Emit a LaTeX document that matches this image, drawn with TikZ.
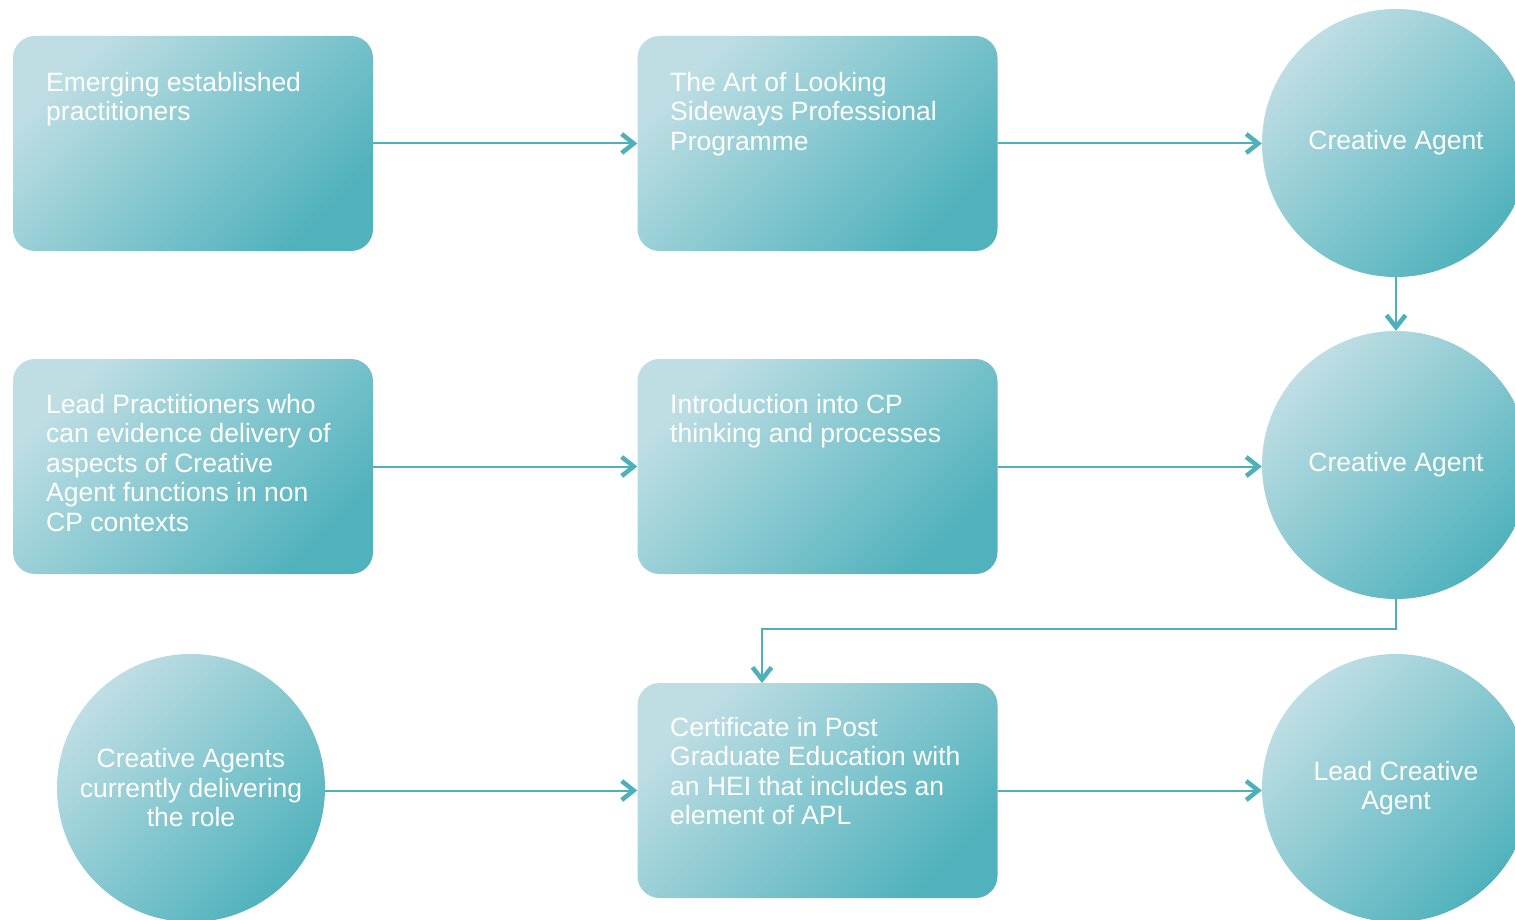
\documentclass[tikz,border=0pt]{standalone}
\usepackage{fontspec}
\setmainfont{Liberation Sans}
\usetikzlibrary{arrows.meta}
\definecolor{tealLight}{HTML}{BFDEE4}
\definecolor{tealDark}{HTML}{50B2BC}
\definecolor{tealLine}{HTML}{4DB1BB}
\tikzset{
  x=1pt, y=-1pt,
  shadefill/.style={draw=none, top color=tealLight, bottom color=tealDark, shading angle=45},
  stagebox/.style={shadefill, rounded corners=22pt, minimum width=360pt, minimum height=215pt, inner sep=0pt},
  stagecircle/.style={shadefill, circle, minimum size=268pt, inner sep=0pt, text=white,
    font=\fontsize{26.5}{29.5}\selectfont, align=center},
  boxtext/.style={anchor=north west, inner sep=0pt, text=white, align=left,
    font=\fontsize{26.5}{29.5}\selectfont},
  conn/.style={draw=tealLine, line width=2pt,
    -{Straight Barb[length=12pt, width=19pt, line width=4.5pt]}}
}
\begin{document}
\begin{tikzpicture}
\clip (0,0) rectangle (1515,920);
\fill[white] (0,0) rectangle (1515,920);

% row 1
\node[stagebox] (b1) at (193,143.5) {};
\node[stagebox] (b2) at (817.5,143.5) {};
\node[stagecircle] (c1) at (1396,143) {Creative Agent};
\node[boxtext] (t1) at (46,72) {Emerging established\\practitioners};
\node[boxtext] (t2) at (670,72) {The Art of Looking\\Sideways Professional\\Programme};

% row 2
\node[stagebox] (b3) at (193,466.5) {};
\node[stagebox] (b4) at (817.5,466.5) {};
\node[stagecircle] (c2) at (1396,465) {Creative Agent};
\node[boxtext] (t3) at (46,394) {Lead Practitioners who\\can evidence delivery of\\aspects of Creative\\Agent functions in non\\CP contexts};
\node[boxtext] (t4) at (670,394) {Introduction into CP\\thinking and processes};

% row 3
\node[stagecircle] (c3) at (191,788) {Creative Agents\\currently delivering\\the role};
\node[stagebox] (b6) at (817.5,790.5) {};
\node[stagecircle] (c4) at (1396,788) {Lead Creative\\Agent};
\node[boxtext] (t6) at (670,717) {Certificate in Post\\Graduate Education with\\an HEI that includes an\\element of APL};

% connectors
\draw[conn] (b1.east) -- (b2.west);
\draw[conn] (b2.east) -- (b2.east -| c1.west);
\draw[conn] (c1.south) -- (c2.north);
\draw[conn] (b3.east) -- (b4.west);
\draw[conn] (b4.east) -- (b4.east -| c2.west);
\coordinate (drop) at (762,683);
\draw[conn] (c2.south) -- ++(0,30) -| (drop);
\draw[conn] (c3.east |- b6.west) -- (b6.west);
\draw[conn] (b6.east) -- (b6.east -| c4.west);
\end{tikzpicture}
\end{document}
